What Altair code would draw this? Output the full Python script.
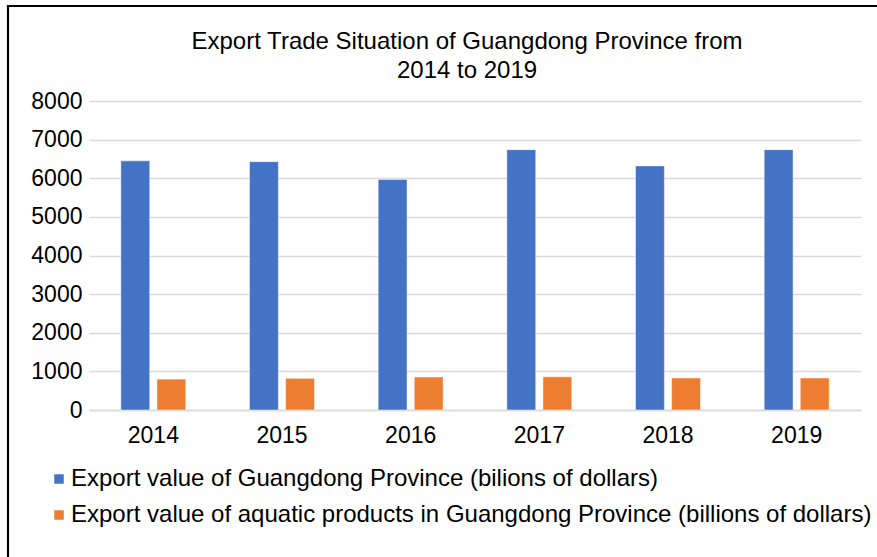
import altair as alt
import pandas as pd

years = ["2014", "2015", "2016", "2017", "2018", "2019"]
export_total = [6450, 6430, 5970, 6740, 6320, 6740]
export_aquatic = [800, 820, 855, 860, 830, 830]
series_names = [
    "Export value of Guangdong Province (bilions of dollars)",
    "Export value of aquatic products in Guangdong Province (billions of dollars)",
]
colors = ["#4472C4", "#ED7D31"]
title_lines = ["Export Trade Situation of Guangdong Province from", "2014 to 2019"]

rows = []
for i, y in enumerate(years):
    rows.append({"year": y, "series": series_names[0], "value": export_total[i]})
    rows.append({"year": y, "series": series_names[1], "value": export_aquatic[i]})
df = pd.DataFrame(rows)

W, H = 772, 309
FONT = "Liberation Sans"

bars = alt.Chart(df).mark_bar(stroke="white", strokeWidth=0.8, strokeOpacity=0.6).encode(
    x=alt.X("year:N", sort=years, title=None,
            scale=alt.Scale(paddingInner=0.495, paddingOuter=0.2475),
            axis=alt.Axis(labelAngle=0, labelFontSize=23, labelFont=FONT, labelColor="#000",
                          labelPadding=14, ticks=False, domainColor="#d9d9d9", domainWidth=1.5)),
    xOffset=alt.XOffset("series:N", sort=series_names,
                        scale=alt.Scale(paddingInner=0.2, paddingOuter=0)),
    y=alt.Y("value:Q", title=None,
            scale=alt.Scale(domain=[0, 8000], nice=False),
            axis=alt.Axis(values=list(range(0, 8001, 1000)), format="d", labelFontSize=23,
                          labelFont=FONT, labelColor="#000", labelPadding=7, ticks=False,
                          domain=False, gridColor="#d9d9d9", gridWidth=1.5)),
    color=alt.Color("series:N", sort=series_names,
                    scale=alt.Scale(domain=series_names, range=colors),
                    legend=alt.Legend(title=None, orient="none", legendX=-42, legendY=366,
                                      direction="vertical", symbolType="square", symbolSize=90,
                                      labelFontSize=24, labelFont=FONT, labelColor="#000",
                                      rowPadding=12, labelOffset=0, labelLimit=900,
                                      symbolStrokeWidth=0)),
)

title = alt.Chart(pd.DataFrame({"t": ["\n".join(title_lines)]})).mark_text(
    font=FONT, fontSize=24, color="#000", align="center", baseline="middle",
    lineBreak="\n", lineHeight=29, clip=False,
).encode(
    text="t:N", x=alt.value(378), y=alt.value(-59),
)

border = alt.Chart(pd.DataFrame({"a": [0]})).mark_rect(
    fill=None, stroke="#000", strokeWidth=2.2, clip=False
).encode(
    x=alt.value(-81), x2=alt.value(W + 200),
    y=alt.value(-95), y2=alt.value(H + 300),
)

chart = alt.layer(bars, title, border).properties(
    width=W, height=H,
    autosize=alt.AutoSizeParams(type="none"),
    padding={"left": 89, "top": 101, "right": 16, "bottom": 147},
).configure(background="white").configure_view(strokeWidth=0, stroke="transparent")

chart.save("out.html", embed_options={"renderer": "svg", "actions": False})
